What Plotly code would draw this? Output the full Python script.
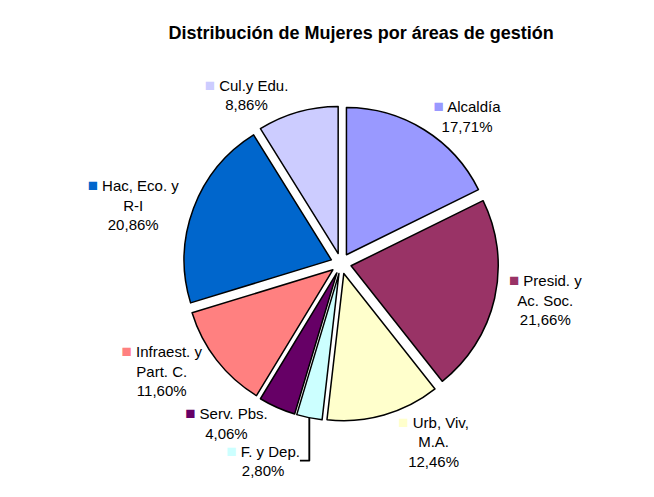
import plotly.graph_objects as go

categories = ["Alcaldía", "Presid. y Ac. Soc.", "Urb, Viv, M.A.", "F. y Dep.",
              "Serv. Pbs.", "Infraest. y Part. C.", "Hac, Eco. y R-I", "Cul.y Edu."]
display_labels = ["Alcaldía", "Presid. y<br>Ac. Soc.", "Urb, Viv,<br>M.A.", "F. y Dep.",
                  "Serv. Pbs.", "Infraest. y<br>Part. C.", "Hac, Eco. y<br>R-I", "Cul.y Edu."]
values = [17.71, 21.66, 12.46, 2.80, 4.06, 11.60, 20.86, 8.86]
colors = ["#9999FF", "#993366", "#FFFFCC", "#CCFFFF",
          "#660066", "#FF8080", "#0066CC", "#CCCCFF"]

texts = [f"<span style='color:{c};font-size:17px'>■</span> {lab}" for c, lab in zip(colors, display_labels)]

fig = go.Figure(go.Pie(
    labels=categories,
    values=values,
    text=texts,
    texttemplate="%{text}<br>%{value:.2f}%",
    textposition="outside",
    sort=False,
    direction="clockwise",
    rotation=0,
    pull=0.07,
    marker=dict(colors=colors, line=dict(color="black", width=1.5)),
    textfont=dict(family="Liberation Sans, Arial", size=15, color="black"),
    showlegend=False,
    hoverinfo="label+percent",
))

fig.update_layout(
    width=654, height=497,
    separators=",.",
    paper_bgcolor="white",
    plot_bgcolor="white",
    margin=dict(l=42, r=12, t=98, b=0),
    title=dict(text="<b>Distribución de Mujeres por áreas de gestión</b>",
               x=0.54, xanchor="center", y=0.95, yanchor="middle",
               font=dict(family="Liberation Sans, Arial", size=18, color="black")),
)

fig.write_html("out.html")
